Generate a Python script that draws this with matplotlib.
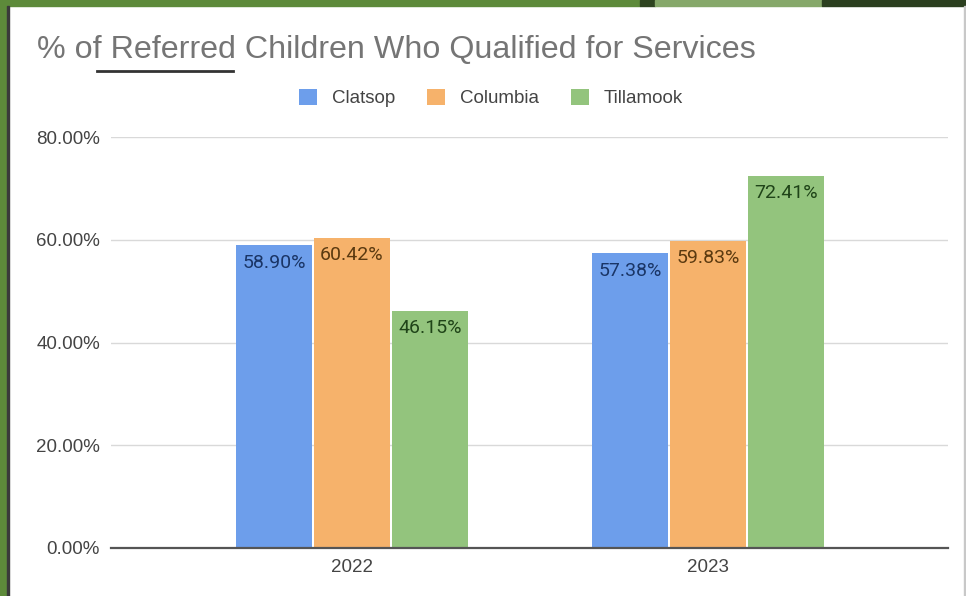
import numpy as np
import matplotlib.pyplot as plt
from matplotlib.patches import Rectangle

years = ["2022", "2023"]
counties = ["Clatsop", "Columbia", "Tillamook"]
clatsop = [58.90, 57.38]
columbia = [60.42, 59.83]
tillamook = [46.15, 72.41]
yticks = [0, 20, 40, 60, 80]

colors = ["#6d9eeb", "#f6b26b", "#93c47d"]
label_colors = ["#1a3566", "#5b3a10", "#1f4418"]

W, H = 966, 596
fig = plt.figure(figsize=(W / 100, H / 100), dpi=100)
fig.patch.set_facecolor("white")

# slide frame around the chart
def px_rect(x0, y0, x1, y1, color):
    fig.patches.append(Rectangle((x0 / W, 1 - y1 / H), (x1 - x0) / W, (y1 - y0) / H,
                                 transform=fig.transFigure, color=color, zorder=0))

px_rect(0, 0, 8, H, "#5d8a3a")
px_rect(0, 0, 640, 6, "#5d8a3a")
px_rect(640, 0, 655, 6, "#2e4420")
px_rect(655, 0, 822, 6, "#86a86a")
px_rect(822, 0, W, 6, "#2b3f1f")
px_rect(7, 6, 8.5, H, "#3a3a3a")
px_rect(964, 6, W, H, "#c8c8c8")

ax = fig.add_axes([111 / W, 1 - 548 / H, (948 - 111) / W, (548 - 137) / H])

x = np.arange(len(years))
width = 0.212
offset = 0.219
series = [clatsop, columbia, tillamook]
for i, (name, vals) in enumerate(zip(counties, series)):
    bars = ax.bar(x + (i - 1) * offset, vals, width, color=colors[i], label=name, zorder=3)
    for b, v in zip(bars, vals):
        ax.annotate(f"{v:.2f}%", (b.get_x() + b.get_width() / 2, v),
                    xytext=(0, -12.5), textcoords="offset points", ha="center", va="center",
                    fontsize=14, family="Roboto", color=label_colors[i], zorder=4)

ax.set_xlim(-0.677, 1.674)
ax.set_ylim(0, 80)
ax.set_yticks(yticks)
ax.set_yticklabels([f"{t:.2f}%" for t in yticks])
ax.set_xticks(x)
ax.set_xticklabels(years)
ax.tick_params(axis="both", length=0, labelsize=13.5, labelcolor="#444444")
ax.tick_params(axis="y", pad=8)
ax.tick_params(axis="x", pad=8)
for lab in ax.get_xticklabels() + ax.get_yticklabels():
    lab.set_family("Liberation Sans")
ax.grid(axis="y", color="#d9d9d9", lw=1, zorder=0)
for s in ["top", "right", "left"]:
    ax.spines[s].set_visible(False)
ax.spines["bottom"].set_color("#555555")
ax.spines["bottom"].set_linewidth(1.6)
ax.spines["bottom"].set_zorder(5)

fig.text(37 / W, 1 - 50 / H, "% of Referred Children Who Qualified for Services",
         fontsize=23.2, family="Liberation Sans", color="#757575", va="center", ha="left")
fig.add_artist(plt.Line2D([97 / W, 233 / W], [1 - 71 / H, 1 - 71 / H], color="#333333", lw=2))

leg = fig.legend(loc="center", bbox_to_anchor=(491 / W, 1 - 98 / H), ncol=3, frameon=False,
                 prop={"family": "Liberation Sans", "size": 13.5}, handlelength=0.95, handleheight=0.95,
                 handletextpad=0.8, columnspacing=1.7)
for t in leg.get_texts():
    t.set_color("#444444")

fig.savefig("out.png", dpi=100)
